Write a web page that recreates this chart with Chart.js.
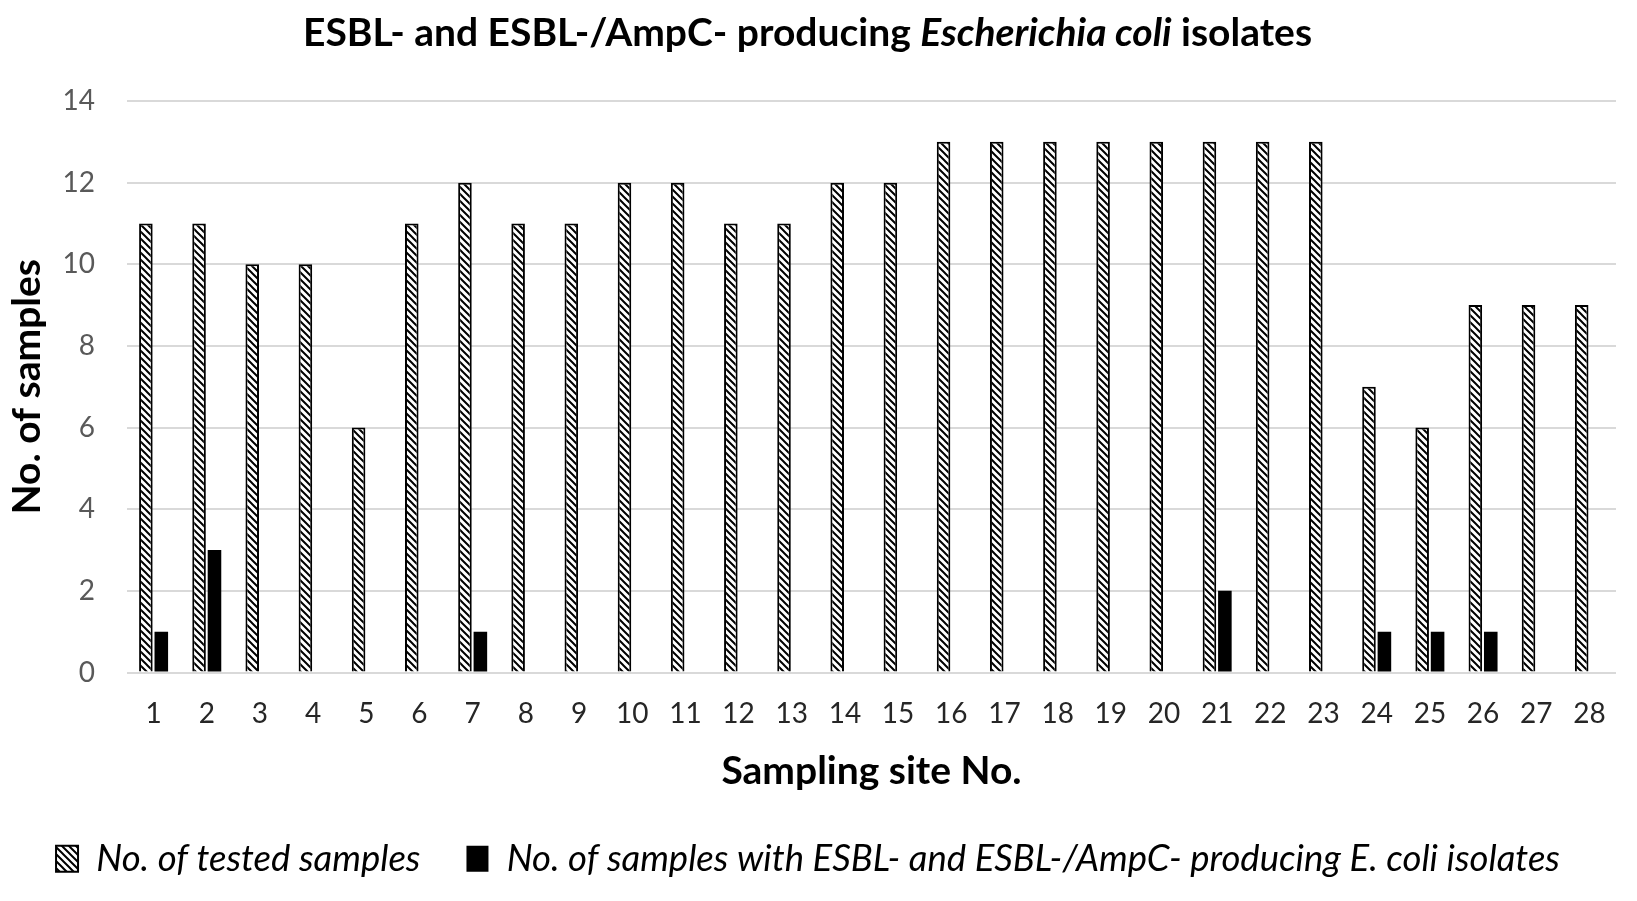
<!DOCTYPE html>
<html>
<head>
<meta charset="utf-8">
<script src="https://cdn.jsdelivr.net/npm/chart.js@4.4.1/dist/chart.umd.min.js"></script>
<style>
  html, body { margin: 0; padding: 0; background: #fff; }
  #wrap { position: relative; width: 1637px; height: 901px; }
  #title {
    position: absolute; left: -11px; width: 1637px; top: 8px;
    text-align: center; font-family: Lato, "Open Sans", sans-serif;
    font-weight: bold; font-size: 39px; color: #000;
  }
  canvas { position: absolute; left: 0; top: 0; }
</style>
</head>
<body>
<div id="wrap">
  <canvas id="chart" width="1637" height="901"></canvas>
  <div id="title">ESBL- and ESBL-/AmpC- producing <i>Escherichia coli</i> isolates</div>
</div>
<script>
  // site numbers on the x axis
  const sites = ["1","2","3","4","5","6","7","8","9","10","11","12","13","14",
    "15","16","17","18","19","20","21","22","23","24","25","26","27","28"];
  // samples tested per site
  const testedSamples = [11,11,10,10,6,11,12,11,11,12,12,11,11,12,12,13,13,13,13,13,13,13,13,7,6,9,9,9];
  // samples with ESBL / ESBL-AmpC producing E. coli
  const positiveSamples = [1,3,0,0,0,0,1,0,0,0,0,0,0,0,0,0,0,0,0,0,2,0,0,1,1,1,0,0];
  const yTicks = [0,2,4,6,8,10,12,14];

  const seriesNames = [
    "No. of tested samples",
    "No. of samples with ESBL- and ESBL-/AmpC- producing E. coli isolates"
  ];

  // diagonal hatch like the original
  function hatch() {
    const s = 7;
    const c = document.createElement("canvas");
    c.width = s; c.height = s;
    const g = c.getContext("2d");
    g.fillStyle = "#fff";
    g.fillRect(0, 0, s, s);
    g.strokeStyle = "#000";
    g.lineWidth = 2;
    g.beginPath();
    g.moveTo(-1, -1); g.lineTo(s + 1, s + 1);
    g.moveTo(-1, s - 1); g.lineTo(1, s + 1);
    g.moveTo(s - 1, -1); g.lineTo(s + 1, 1);
    g.stroke();
    return g.createPattern(c, "repeat");
  }

  const ctx = document.getElementById("chart");
  const font = "Lato, 'Open Sans', sans-serif";

  new Chart(ctx, {
    type: "bar",
    data: {
      labels: sites,
      datasets: [
        {
          label: seriesNames[0],
          data: testedSamples,
          backgroundColor: hatch(),
          borderColor: "#000",
          borderWidth: 2
        },
        {
          label: seriesNames[1],
          data: positiveSamples,
          backgroundColor: "#000",
          borderColor: "#000",
          borderWidth: 0
        }
      ]
    },
    options: {
      responsive: false,
      animation: false,
      devicePixelRatio: 1,
      layout: { padding: { left: 0, right: 21, top: 101, bottom: 14 } },
      datasets: { bar: { categoryPercentage: 0.58, barPercentage: 0.88 } },
      plugins: {
        title: { display: false },
        tooltip: { enabled: false },
        legend: {
          position: "bottom",
          labels: {
            color: "#000",
            boxWidth: 22,
            boxHeight: 26,
            padding: 46,
            font: { family: font, size: 36.5, style: "italic" }
          }
        }
      },
      scales: {
        x: {
          grid: { display: false },
          border: { display: false },
          ticks: { color: "#262626", font: { family: font, size: 28 }, padding: 17, maxRotation: 0, autoSkip: false },
          title: { display: true, text: "Sampling site No.", color: "#000", font: { family: font, size: 39, weight: "bold" }, padding: { top: 8, bottom: 0 } },
          afterFit: (s) => { s.height = 122; }
        },
        y: {
          min: 0,
          max: 14,
          afterBuildTicks: (s) => { s.ticks = yTicks.map(v => ({ value: v })); },
          grid: { color: "#d9d9d9", lineWidth: 2, drawTicks: false },
          border: { display: false },
          ticks: { color: "#595959", font: { family: font, size: 28 }, padding: 32 },
          title: { display: true, text: "No. of samples", color: "#000", font: { family: font, size: 39, weight: "bold" }, padding: { bottom: 0 } },
          afterFit: (s) => { s.width = 127; }
        }
      }
    }
  });
</script>
</body>
</html>
